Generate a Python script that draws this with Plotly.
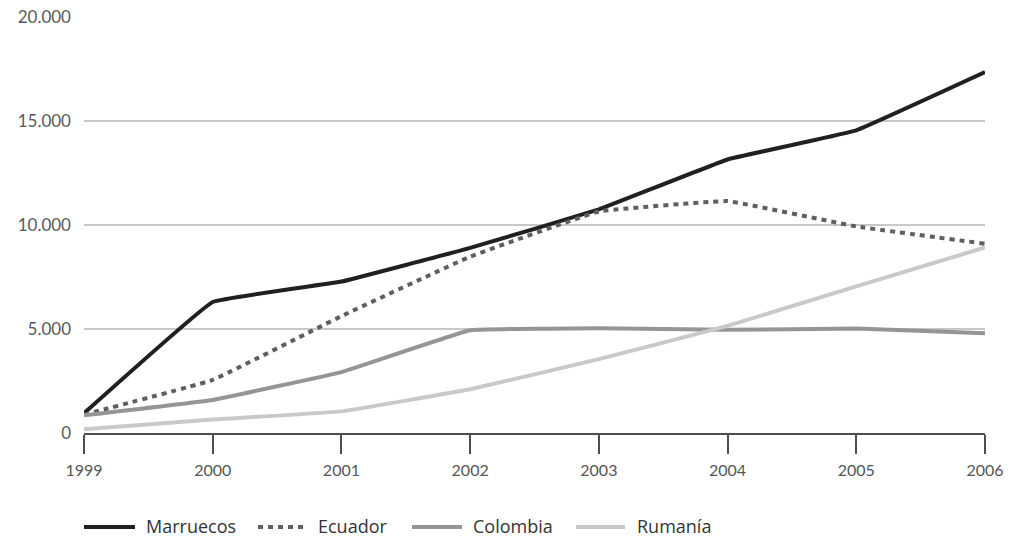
import plotly.graph_objects as go

# Years and yearly figures per country
years = [1999, 2000, 2001, 2002, 2003, 2004, 2005, 2006]
marruecos = [950, 6300, 7280, 8900, 10750, 13150, 14550, 17350]
ecuador = [880, 2550, 5620, 8480, 10650, 11150, 9930, 9100]
colombia = [850, 1590, 2930, 4940, 5040, 4960, 5020, 4800]
rumania = [180, 650, 1040, 2100, 3550, 5150, 7050, 8920]

series_names = ["Marruecos", "Ecuador", "Colombia", "Rumanía"]
series_values = [marruecos, ecuador, colombia, rumania]

y_tickvals = [0, 5000, 10000, 15000, 20000]
y_ticktext = ["0", "5.000", "10.000", "15.000", "20.000"]

styles = {
    "Marruecos": dict(color="#231f20", width=4, dash="solid"),
    "Ecuador": dict(color="#5f5f61", width=4, dash="5px,5px"),
    "Colombia": dict(color="#959598", width=4, dash="solid"),
    "Rumanía": dict(color="#c8c9cb", width=4, dash="solid"),
}

W, H = 1010, 538
ML, MR, MT, MB = 84, 25, 17, 105
PW, PH = W - ML - MR, H - MT - MB

fig = go.Figure()
for name, vals in zip(series_names, series_values):
    st = styles[name]
    fig.add_trace(go.Scatter(
        x=years, y=vals, name=name, mode="lines",
        line=dict(color=st["color"], width=st["width"], dash=st["dash"],
                  shape="spline", smoothing=0.2),
        showlegend=False,
    ))

# Legend row drawn below the plot: line sample + label
def px_to_paper_x(px):
    return (px - ML) / PW

def py_to_paper_y(py):
    return (H - MB - py) / PH

legend_items = [
    ("Marruecos", 84, 135, 144),
    ("Ecuador", 258, 305, 316),
    ("Colombia", 412, 462, 471),
    ("Rumanía", 576, 625, 635),
]
legend_y = 527
shapes = []
annotations = []
for name, x0, x1, tx in legend_items:
    st = styles[name]
    shapes.append(dict(
        type="line", xref="paper", yref="paper",
        x0=px_to_paper_x(x0), x1=px_to_paper_x(x1),
        y0=py_to_paper_y(legend_y), y1=py_to_paper_y(legend_y),
        line=dict(color=st["color"], width=st["width"], dash=st["dash"]),
    ))
    annotations.append(dict(
        text=name, xref="paper", yref="paper",
        x=px_to_paper_x(tx), y=py_to_paper_y(legend_y - 1),
        xanchor="left", yanchor="middle", showarrow=False,
        font=dict(family="Open Sans", size=18, color="#333333"),
    ))

fig.update_layout(
    width=W, height=H,
    margin=dict(l=ML, r=MR, t=MT, b=MB, autoexpand=False),
    paper_bgcolor="white", plot_bgcolor="white",
    shapes=shapes, annotations=annotations,
    xaxis=dict(
        range=[1999, 2006], tickvals=years, ticktext=[str(y) for y in years],
        automargin=False,
        showgrid=False, zeroline=False,
        showline=True, linecolor="#4d4d4d", linewidth=2,
        ticks="outside", ticklen=19, tickwidth=2, tickcolor="#4d4d4d",
        ticklabelstandoff=3,
        tickfont=dict(family="Lato", size=16, color="#555555"),
    ),
    yaxis=dict(
        range=[0, 20000], tickvals=y_tickvals, ticktext=y_ticktext,
        automargin=False,
        showgrid=True, gridcolor="#c8c8c8", gridwidth=1.5,
        zeroline=False, showline=False, ticks="",
        ticklabelstandoff=12,
        tickfont=dict(family="Lato", size=17, color="#5a5a5a"),
    ),
)

fig.write_html("out.html")
